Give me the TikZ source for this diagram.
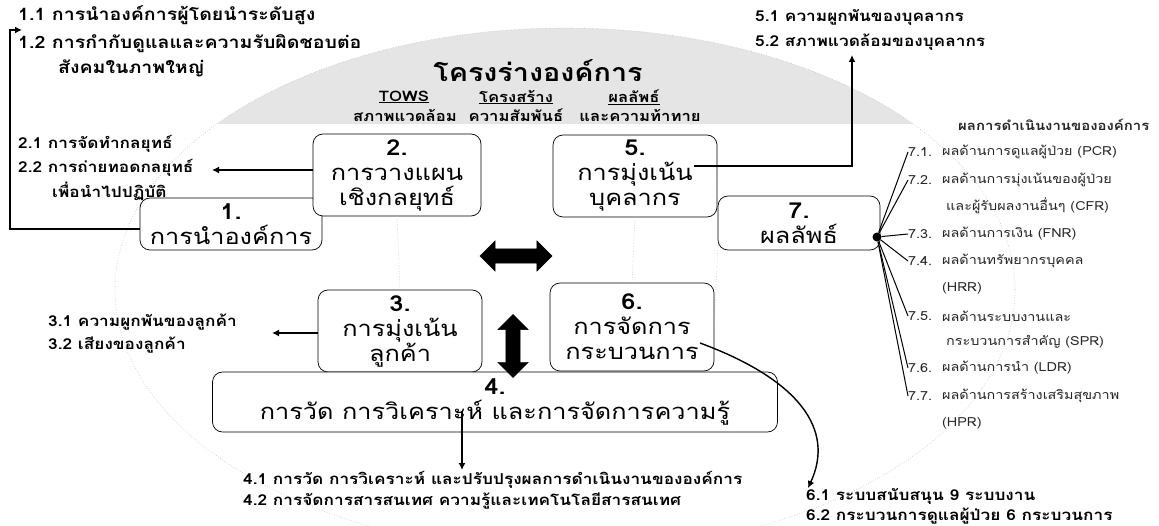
\documentclass[tikz,border=0pt]{standalone}
\usepackage{fontspec}
\setmainfont{Loma}[Script=Thai]
\newfontfamily\wfont{Loma}[Script=Thai,FakeStretch=1.15]
\usetikzlibrary{shapes.arrows,arrows.meta,calc}
\begin{document}
\begin{tikzpicture}[x=1pt,y=-1pt,
  box/.style={draw,line width=0.7pt,rounded corners=10pt,fill=white,align=center,inner sep=0pt,
    font=\wfont\fontsize{22}{25}\selectfont},
  side/.style={anchor=west,inner sep=0pt,font=\wfont\bfseries\fontsize{15}{18}\selectfont},
  sidebig/.style={side,font=\wfont\bfseries\fontsize{17}{20}\selectfont},
  hd/.style={inner sep=0pt,font=\wfont\bfseries\fontsize{14.5}{17}\selectfont},
  res/.style={anchor=west,inner sep=0pt,text=black!85,font=\wfont\fontsize{12.5}{15}\selectfont},
  arr/.style={line width=1.4pt,-{Latex[length=7pt,width=7pt]}},
  fan/.style={line width=1pt},
  faint/.style={gray!50,dotted,line width=0.6pt},
  bigarrow/.style={double arrow,fill=black,draw=black,inner sep=7pt,double arrow head extend=8pt}
]
\useasboundingbox (0,0) rectangle (1159,526);
\fill[white] (0,0) rectangle (1159,526);

% background dome
\begin{scope}
  \clip (0,0) rectangle (1159,124);
  \fill[gray!20] (565,290) ellipse [x radius=450, y radius=262];
\end{scope}
\draw[faint] (565,290) ellipse [x radius=450, y radius=262];

% title and headers
\node[font=\wfont\bfseries\fontsize{25}{29}\selectfont] (title) at (538,71) {โครงร่างองค์การ};
\node[hd] (h1a) at (404,97) {\underline{TOWS}};
\node[hd] (h1b) at (405,115) {สภาพแวดล้อม};
\node[hd] (h2a) at (516,97) {\underline{โครงสร้าง}};
\node[hd] (h2b) at (516,115) {ความสัมพันธ์};
\node[hd] (h3a) at (634,97) {\underline{ผลลัพธ์}};
\node[hd] (h3b) at (640,115) {และความท้าทาย};

% boxes
\node[box,minimum width=182,minimum height=52] (b1) at (231,224) {\textbf{1.}\\การนำองค์การ};
\node[box,minimum width=168,minimum height=82] (b2) at (397,175) {\textbf{2.}\\การวางแผน\\เชิงกลยุทธ์};
\node[box,minimum width=164,minimum height=82] (b5) at (635,176) {\textbf{5.}\\การมุ่งเน้น\\บุคลากร};
\node[box,minimum width=162,minimum height=54] (b7) at (799,223) {\textbf{7.}\\ผลลัพธ์};
\node[box,minimum width=164,minimum height=82] (b3) at (400,331) {\textbf{3.}\\การมุ่งเน้น\\ลูกค้า};
\node[box,minimum width=164,minimum height=88] (b6) at (632,327) {\textbf{6.}\\การจัดการ\\กระบวนการ};
\node[box,minimum width=565,minimum height=60] (b4) at (495,402) {\textbf{4.}\\การวัด การวิเคราะห์ และการจัดการความรู้};

% faint framework lines
\draw[faint] (b2.south) -- (b3.north);
\draw[faint] (b5.south) -- (b6.north);
\draw[faint] (b5.east) -- (b7.north west);
\draw[faint] (b7.south west) -- (b6.east);

% big double arrows
\node[bigarrow,minimum height=72] (ha) at (516,256) {};
\node[bigarrow,shape border rotate=90,minimum height=63] (va) at (513,346) {};

% side texts
\node[sidebig] (t11) at (18,15) {1.1 การนำองค์การผู้โดยนำระดับสูง};
\node[sidebig] (t12) at (18,44) {1.2 การกำกับดูแลและความรับผิดชอบต่อ};
\node[sidebig] (t13) at (58,68) {สังคมในภาพใหญ่};
\node[side] (t21) at (18,144) {2.1 การจัดทำกลยุทธ์};
\node[side] (t22) at (18,168) {2.2 การถ่ายทอดกลยุทธ์};
\node[side] (t23) at (52,191) {เพื่อนำไปปฏิบัติ};
\node[side] (t31) at (48,322) {3.1 ความผูกพันของลูกค้า};
\node[side] (t32) at (48,345) {3.2 เสียงของลูกค้า};
\node[side] (t41) at (243,480) {4.1 การวัด การวิเคราะห์ และปรับปรุงผลการดำเนินงานขององค์การ};
\node[side] (t42) at (243,501) {4.2 การจัดการสารสนเทศ ความรู้และเทคโนโลยีสารสนเทศ};
\node[side] (t51) at (755,17) {5.1 ความผูกพันของบุคลากร};
\node[side] (t52) at (755,42) {5.2 สภาพแวดล้อมของบุคลากร};
\node[side] (t61) at (806,496) {6.1 ระบบสนับสนุน 9 ระบบงาน};
\node[side] (t62) at (806,516) {6.2 กระบวนการดูแลผู้ป่วย 6 กระบวนการ};

% results column
\node[side,font=\wfont\bfseries\fontsize{13}{16}\selectfont,text=black!85] (rh) at (958,125) {ผลการดำเนินงานขององค์การ};
\node[res] (n1) at (908,152) {7.1.};
\node[res] (r1) at (942,152) {ผลด้านการดูแลผู้ป่วย (PCR)};
\node[res] (n2) at (908,180) {7.2.};
\node[res] (r2) at (942,180) {ผลด้านการมุ่งเน้นของผู้ป่วย};
\node[res] (r2b) at (946,206) {และผู้รับผลงานอื่นๆ (CFR)};
\node[res] (n3) at (908,234) {7.3.};
\node[res] (r3) at (942,234) {ผลด้านการเงิน (FNR)};
\node[res] (n4) at (908,261) {7.4.};
\node[res] (r4) at (942,261) {ผลด้านทรัพยากรบุคคล};
\node[res] (r4b) at (942,288) {(HRR)};
\node[res] (n5) at (908,316) {7.5.};
\node[res] (r5) at (942,316) {ผลด้านระบบงานและ};
\node[res] (r5b) at (946,342) {กระบวนการสำคัญ (SPR)};
\node[res] (n6) at (908,368) {7.6.};
\node[res] (r6) at (942,368) {ผลด้านการนำ (LDR)};
\node[res] (n7) at (908,396) {7.7.};
\node[res] (r7) at (942,396) {ผลด้านการสร้างเสริมสุขภาพ};
\node[res] (r7b) at (942,423) {(HPR)};

\node[circle,fill=black,inner sep=0pt,minimum size=9] (dot) at (877,237) {};
\foreach \n in {n1,n2,n3,n4,n5,n6,n7} \draw[fan] (dot) -- (\n.west);

% connectors
\coordinate (c1a) at (10,229);
\coordinate (c1b) at (22,30);
\draw[arr] (b1.west |- c1a) -- (c1a) |- (c1b);
\coordinate (c2) at (212,170);
\draw[arr] (b2.west |- c2) -- (c2);
\coordinate (c3) at (272,333);
\draw[arr] (b3.west |- c3) -- (c3);
\coordinate (c4a) at (462,411);
\coordinate (c4b) at (462,470);
\draw[arr] (c4a) -- (c4b);
\coordinate (c5a) at (694,166);
\coordinate (c5b) at (852,55);
\draw[arr] (c5a) -| (c5b);
\coordinate (c6a) at (700,343);
\coordinate (c6b) at (808,488);
\draw[arr] (c6a) .. controls (800,380) and (835,430) .. (c6b);
\end{tikzpicture}
\end{document}
